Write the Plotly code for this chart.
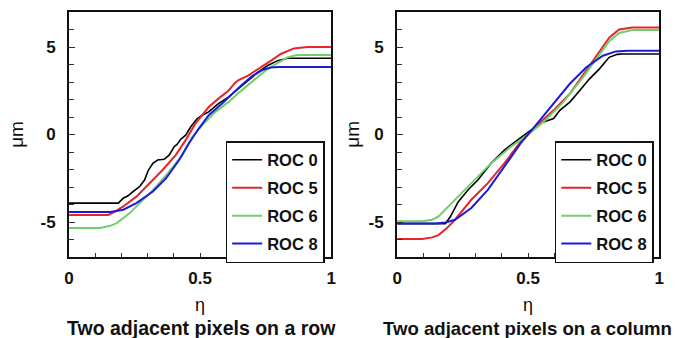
import plotly.graph_objects as go

# ---------------- data ----------------
names = ["ROC 0", "ROC 5", "ROC 6", "ROC 8"]
colors = ["#000000", "#e3262b", "#6fcf6a", "#1c1cd6"]

# Left panel: two adjacent pixels on a row  (eta, micrometres)
row_eta_0 = [0, 0.188, 0.207, 0.225, 0.244, 0.269, 0.288, 0.303, 0.320, 0.338, 0.363, 0.382, 0.401, 0.413, 0.426, 0.445, 0.464, 0.489, 0.508, 0.533, 0.570, 0.608, 0.645, 0.683, 0.721, 0.758, 0.796, 0.833, 1.0]
row_um_0 = [-3.92, -3.92, -3.64, -3.5, -3.26, -2.98, -2.6, -2.03, -1.65, -1.46, -1.42, -1.18, -0.7, -0.55, -0.28, -0.04, 0.43, 0.91, 1.1, 1.29, 1.76, 2.14, 2.61, 3.09, 3.56, 3.94, 4.22, 4.36, 4.36]
row_eta_5 = [0, 0.150, 0.182, 0.207, 0.257, 0.307, 0.357, 0.407, 0.445, 0.482, 0.533, 0.570, 0.608, 0.633, 0.645, 0.683, 0.733, 0.771, 0.808, 0.858, 0.909, 1.0]
row_um_5 = [-4.6, -4.6, -4.35, -4.11, -3.55, -2.78, -2.03, -1.18, -0.32, 0.62, 1.57, 2.05, 2.5, 2.95, 3.1, 3.37, 3.84, 4.22, 4.6, 4.92, 5.0, 5.0]
row_eta_6 = [0, 0.119, 0.157, 0.182, 0.232, 0.282, 0.332, 0.382, 0.432, 0.470, 0.508, 0.558, 0.608, 0.645, 0.683, 0.721, 0.758, 0.796, 0.833, 0.870, 1.0]
row_um_6 = [-5.34, -5.34, -5.22, -5.06, -4.49, -3.73, -2.98, -2.12, -1.18, -0.14, 0.53, 1.29, 1.85, 2.35, 2.8, 3.3, 3.75, 4.1, 4.4, 4.55, 4.55]
row_eta_8 = [0, 0.157, 0.207, 0.257, 0.320, 0.370, 0.420, 0.457, 0.495, 0.533, 0.583, 0.620, 0.660, 0.700, 0.740, 0.770, 0.800, 1.0]
row_um_8 = [-4.43, -4.43, -4.3, -3.92, -3.26, -2.5, -1.46, -0.51, 0.34, 1.1, 1.76, 2.3, 2.85, 3.35, 3.7, 3.83, 3.86, 3.86]

# Right panel: two adjacent pixels on a column
col_eta_0 = [0, 0.184, 0.203, 0.233, 0.271, 0.308, 0.358, 0.409, 0.459, 0.509, 0.559, 0.597, 0.621, 0.659, 0.697, 0.734, 0.772, 0.809, 0.840, 0.860, 1.0]
col_um_0 = [-5.09, -5.09, -4.7, -3.85, -3.16, -2.6, -1.65, -0.89, -0.32, 0.24, 0.72, 0.91, 1.38, 1.85, 2.52, 3.18, 3.75, 4.41, 4.58, 4.6, 4.6]
col_eta_5 = [0, 0.096, 0.134, 0.158, 0.190, 0.221, 0.283, 0.346, 0.409, 0.471, 0.534, 0.597, 0.659, 0.722, 0.785, 0.810, 0.847, 0.897, 1.0]
col_um_5 = [-5.97, -5.97, -5.88, -5.75, -5.35, -4.87, -3.73, -2.78, -1.65, -0.42, 0.53, 1.38, 2.33, 3.65, 4.98, 5.55, 6.0, 6.12, 6.12]
col_eta_6 = [0, 0.096, 0.134, 0.158, 0.208, 0.283, 0.358, 0.434, 0.496, 0.559, 0.634, 0.709, 0.785, 0.810, 0.847, 0.897, 1.0]
col_um_6 = [-4.96, -4.96, -4.87, -4.68, -3.92, -2.78, -1.65, -0.7, -0.04, 0.72, 1.85, 3.27, 4.79, 5.35, 5.8, 5.97, 5.97]
col_eta_8 = [0, 0.146, 0.184, 0.221, 0.283, 0.346, 0.409, 0.471, 0.534, 0.597, 0.659, 0.722, 0.785, 0.835, 0.880, 1.0]
col_um_8 = [-5.09, -5.09, -5.03, -4.87, -4.2, -3.16, -1.84, -0.51, 0.62, 1.76, 2.9, 3.84, 4.5, 4.75, 4.79, 4.79]

x_tickvals = [0, 0.5, 1]
x_ticktext = ["0", "0.5", "1"]
y_tickvals = [-5, 0, 5]
y_ticktext = ["-5", "0", "5"]
captions = ["Two adjacent pixels on a row", "Two adjacent pixels on a column"]
x_title = "η"
y_title = "μm"

row_series = [(row_eta_0, row_um_0), (row_eta_5, row_um_5), (row_eta_6, row_um_6), (row_eta_8, row_um_8)]
col_series = [(col_eta_0, col_um_0), (col_eta_5, col_um_5), (col_eta_6, col_um_6), (col_eta_8, col_um_8)]

# ---------------- figure ----------------
W, H = 677, 338
FONT = "Liberation Sans, Arial, Helvetica, sans-serif"
fig = go.Figure()

widths = [1.6, 2, 2, 2]
for i, (ex, ey) in enumerate(row_series):
    fig.add_trace(go.Scatter(x=ex, y=ey, mode="lines", name=names[i],
                             line=dict(color=colors[i], width=widths[i]),
                             xaxis="x", yaxis="y", legend="legend",
                             legendgroup="a%d" % i))
for i, (ex, ey) in enumerate(col_series):
    fig.add_trace(go.Scatter(x=ex, y=ey, mode="lines", name=names[i],
                             line=dict(color=colors[i], width=widths[i]),
                             xaxis="x2", yaxis="y2", legend="legend2",
                             legendgroup="b%d" % i))

def px_x(p):
    return p / W

def px_y(p):
    return 1 - p / H

ydom = [px_y(257), px_y(12)]
xdom1 = [px_x(65), px_x(331)]
xdom2 = [px_x(398), px_x(664)]

tickfont = dict(family=FONT, size=17, color="#111", weight="bold")

def xaxis(dom, anchor):
    return dict(domain=dom, anchor=anchor, range=[0, 1], showgrid=False, zeroline=False,
                showline=True, linecolor="#111", linewidth=2, mirror=True,
                ticks="inside", ticklen=4, tickcolor="#333", tickwidth=1,
                tickvals=x_tickvals, ticktext=x_ticktext, tickfont=tickfont,
                ticklabelstandoff=5,
                minor=dict(dtick=0.1, tick0=0, ticks="inside", ticklen=4, tickcolor="#333", tickwidth=1))

def yaxis(anchor):
    return dict(domain=ydom, anchor=anchor, range=[-7, 7], showgrid=False, zeroline=False,
                showline=True, linecolor="#111", linewidth=2, mirror=True,
                ticks="inside", ticklen=6, tickcolor="#333", tickwidth=1,
                tickvals=y_tickvals, ticktext=y_ticktext, tickfont=tickfont,
                ticklabelstandoff=8,
                minor=dict(dtick=1, tick0=0, ticks="inside", ticklen=5, tickcolor="#333", tickwidth=1))

legfont = dict(family=FONT, size=16.5, color="#111", weight="bold")
leg_common = dict(bgcolor="white", bordercolor="#111", borderwidth=1.5, font=legfont,
                  xanchor="left", yanchor="top", tracegroupgap=3.5, itemwidth=30,
                  traceorder="grouped")

annotations = []
for cx in [(65 + 331) / 2, (398 + 664) / 2]:
    annotations.append(dict(text=x_title, x=px_x(cx), y=px_y(305), xref="paper", yref="paper",
                            showarrow=False, font=dict(family=FONT, size=18, color="#111"),
                            xanchor="center", yanchor="middle"))
for lx in [11, 352]:
    annotations.append(dict(text=y_title, x=px_x(lx), y=px_y(134), xref="paper", yref="paper",
                            showarrow=False, textangle=-90, font=dict(family=FONT, size=19, color="#111"),
                            xanchor="center", yanchor="middle"))
annotations.append(dict(text=captions[0], x=px_x(61), y=px_y(328), xref="paper", yref="paper",
                        showarrow=False, font=dict(family=FONT, size=19.5, color="#111", weight="bold"),
                        xanchor="left", yanchor="middle"))
annotations.append(dict(text=captions[1], x=px_x(382), y=px_y(328), xref="paper", yref="paper",
                        showarrow=False, font=dict(family=FONT, size=18.6, color="#111", weight="bold"),
                        xanchor="left", yanchor="middle"))

fig.update_layout(
    width=W, height=H, margin=dict(l=0, r=0, t=0, b=0),
    paper_bgcolor="white", plot_bgcolor="white",
    xaxis=xaxis(xdom1, "y"), yaxis=yaxis("x"),
    xaxis2=xaxis(xdom2, "y2"), yaxis2=yaxis("x2"),
    legend=dict(x=px_x(224), y=px_y(141), **leg_common),
    legend2=dict(x=px_x(558), y=px_y(141), **leg_common),
    annotations=annotations,
    showlegend=True,
)

fig.write_html("out.html")
